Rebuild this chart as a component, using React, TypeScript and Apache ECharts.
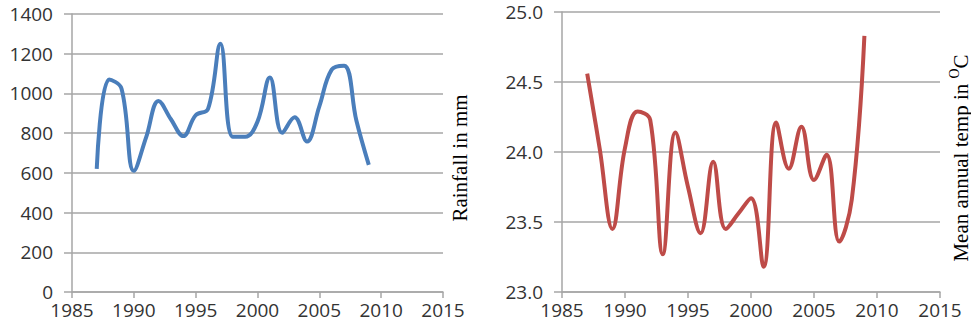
import React, { useEffect, useRef } from "react";
import * as echarts from "echarts";

const years = [1987, 1988, 1989, 1990, 1991, 1992, 1993, 1994, 1995, 1996, 1997, 1998, 1999, 2000, 2001, 2002, 2003, 2004, 2005, 2006, 2007, 2008, 2009];
const rainfall = [620, 1070, 1025, 610, 780, 962, 870, 785, 890, 922, 1250, 782, 782, 858, 1080, 802, 880, 758, 935, 1120, 1140, 862, 640];
const temperature = [24.56, 24.02, 23.45, 24.03, 24.29, 24.23, 23.27, 24.14, 23.75, 23.42, 23.93, 23.45, 23.56, 23.67, 23.18, 24.21, 23.88, 24.18, 23.8, 23.98, 23.36, 23.66, 24.83];

const xMin = 1985;
const xMax = 2015;
const xStep = 5;
const rainMin = 0;
const rainMax = 1400;
const rainStep = 200;
const tempMin = 23;
const tempMax = 25;
const tempStep = 0.5;

const rainTitle = "Rainfall in mm";
const tempTitleMain = "Mean annual temp in ";
const tempTitleSup = "O";
const tempTitleEnd = "C";

const labelFont = "'Open Sans', 'Liberation Sans', sans-serif";
const titleFont = "'Liberation Serif', 'DejaVu Serif', serif";
const axisGrey = "#a6a6a6";
const labelColor = "#333333";

function xAxisCfg(gridIndex: number) {
  return {
    type: "value" as const,
    gridIndex,
    min: xMin,
    max: xMax,
    interval: xStep,
    axisLine: { show: true, onZero: false, lineStyle: { color: axisGrey, width: 1.5 } },
    axisTick: { show: true, length: 6, lineStyle: { color: axisGrey, width: 1.5 } },
    axisLabel: { color: labelColor, fontSize: 19, fontFamily: labelFont, margin: 8, formatter: (v: number) => String(v) },
    splitLine: { show: false },
  };
}

export default function App() {
  const ref = useRef<HTMLDivElement>(null);
  useEffect(() => {
    if (!ref.current) return;
    const chart = echarts.init(ref.current, undefined, { renderer: "svg" });
    chart.setOption({
      animation: false,
      backgroundColor: "#ffffff",
      grid: [
        { left: 72, top: 14, width: 371, height: 278 },
        { left: 562, top: 12, width: 378, height: 280 },
      ],
      xAxis: [xAxisCfg(0), xAxisCfg(1)],
      yAxis: [
        {
          type: "value",
          gridIndex: 0,
          min: rainMin,
          max: rainMax,
          interval: rainStep,
          axisLine: { show: true, lineStyle: { color: axisGrey, width: 1.5 } },
          axisTick: { show: true, length: 8, lineStyle: { color: axisGrey, width: 1.5 } },
          axisLabel: { color: labelColor, fontSize: 19, fontFamily: labelFont, margin: 19, formatter: (v: number) => String(v) },
          splitLine: { show: true, lineStyle: { color: axisGrey, width: 1.5 } },
        },
        {
          type: "value",
          gridIndex: 1,
          min: tempMin,
          max: tempMax,
          interval: tempStep,
          axisLine: { show: true, lineStyle: { color: axisGrey, width: 1.5 } },
          axisTick: { show: true, length: 8, lineStyle: { color: axisGrey, width: 1.5 } },
          axisLabel: { color: labelColor, fontSize: 19, fontFamily: labelFont, margin: 19, formatter: (v: number) => v.toFixed(1) },
          splitLine: { show: true, lineStyle: { color: axisGrey, width: 1.5 } },
        },
      ],
      series: [
        {
          type: "line",
          xAxisIndex: 0,
          yAxisIndex: 0,
          data: years.map((y, i) => [y, rainfall[i]]),
          smooth: 0.4,
          showSymbol: false,
          lineStyle: { color: "#4a7ebb", width: 4 },
          itemStyle: { color: "#4a7ebb" },
        },
        {
          type: "line",
          xAxisIndex: 1,
          yAxisIndex: 1,
          data: years.map((y, i) => [y, temperature[i]]),
          smooth: 0.4,
          showSymbol: false,
          lineStyle: { color: "#be4b48", width: 4 },
          itemStyle: { color: "#be4b48" },
        },
      ],
      graphic: [
        {
          type: "text",
          x: 460,
          y: 158,
          rotation: Math.PI / 2,
          style: {
            text: rainTitle,
            fontFamily: titleFont,
            fontSize: 21,
            fill: "#000000",
            align: "center",
            verticalAlign: "middle",
          },
        },
        {
          type: "text",
          x: 959,
          y: 158,
          rotation: Math.PI / 2,
          style: {
            text: `{a|${tempTitleMain}}{s|${tempTitleSup}}{a|${tempTitleEnd}}`,
            align: "center",
            verticalAlign: "middle",
            fill: "#000000",
            rich: {
              a: { fontFamily: titleFont, fontSize: 21, fill: "#000000", lineHeight: 24, verticalAlign: "bottom" },
              s: { fontFamily: titleFont, fontSize: 14, fill: "#000000", lineHeight: 24, verticalAlign: "top" },
            },
          },
        },
      ],
    });
    return () => chart.dispose();
  }, []);
  return <div ref={ref} style={{ position: "fixed", left: 0, top: 0, width: 971, height: 333 }} />;
}
